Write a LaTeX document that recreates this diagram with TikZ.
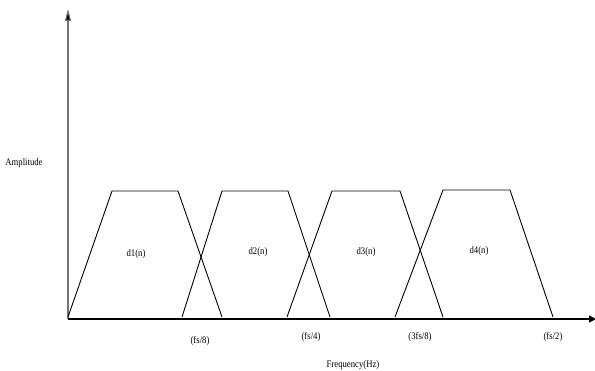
\documentclass[tikz,border=0pt]{standalone}
\usepackage{fontspec}
\setmainfont{Liberation Serif}
\usetikzlibrary{arrows.meta}
\begin{document}
\begin{tikzpicture}[x=1pt,y=-1pt,
  lbl/.style={font=\fontsize{8.7}{10}\selectfont, inner sep=0pt, yscale=1.15},
  band/.style={draw=black, line width=0.9pt, line join=miter},
  axisx/.style={draw=black, line width=1.4pt, -{Triangle[length=7pt,width=7pt]}},
  axisy/.style={draw=black!55, line width=1.1pt, -{Triangle[length=12pt,width=6pt,fill=black]}}]
\useasboundingbox (0,0) rectangle (595,371);
% axes
\coordinate (O) at (68,319);
\coordinate (xend) at (596,319);
\coordinate (yend) at (68,9);
\draw[axisy] (O) -- (yend);
\draw[axisx] (O) -- (xend);
% the four sub-band responses
\draw[band] (68,317) -- (112,191) -- (178,191) -- (222,317);
\draw[band] (182,317) -- (222,191) -- (288,191) -- (330,317);
\draw[band] (287,317) -- (332,191) -- (400,191) -- (443,317);
\draw[band] (395,317) -- (443,190) -- (510,190) -- (553,317);
% band labels
\node[lbl] (d1) at (136,254) {d1(n)};
\node[lbl] (d2) at (258,252) {d2(n)};
\node[lbl] (d3) at (366,252) {d3(n)};
\node[lbl] (d4) at (479,251) {d4(n)};
% frequency ticks
\node[lbl] (f8) at (200,341) {(fs/8)};
\node[lbl] (f4) at (311,337) {(fs/4)};
\node[lbl] (f38) at (420,337) {(3fs/8)};
\node[lbl] (f2) at (553,337) {(fs/2)};
% axis titles
\node[lbl] (xt) at (353,365) {Frequency(Hz)};
\node[lbl] (yt) at (24,163) {Amplitude};
\end{tikzpicture}
\end{document}
